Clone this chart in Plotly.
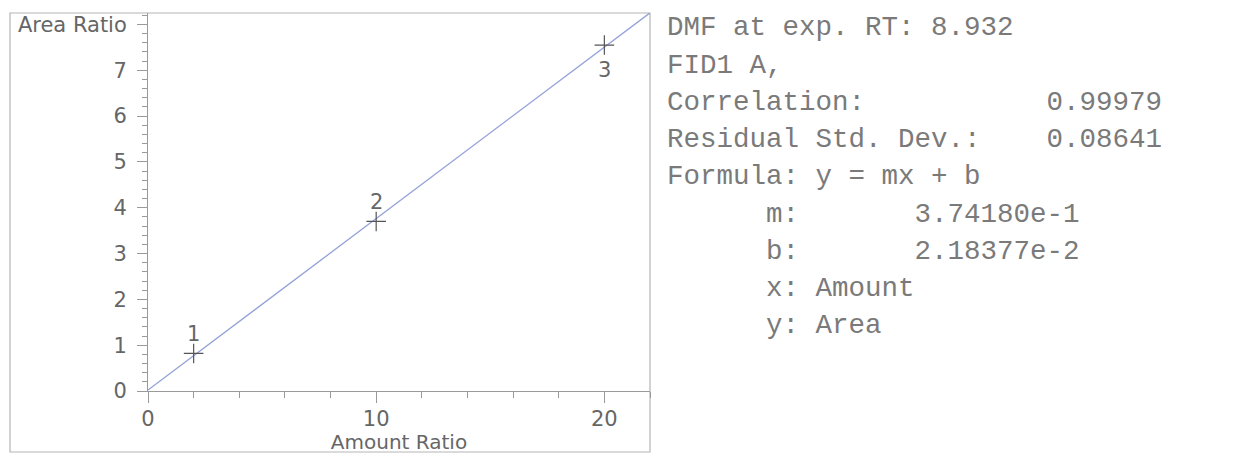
import plotly.graph_objects as go

# ---- data ----
amount_ratio = [2, 10, 20]
area_ratio = [0.82, 3.70, 7.55]
point_labels = ["1", "2", "3"]
label_side = [1, 1, -1]  # 1 = above the point, -1 = below

slope_m = 0.374180
intercept_b = 0.0218377
fit_x = [0, 22]
fit_y = [slope_m * v + intercept_b for v in fit_x]

x_tickvals = [0, 10, 20]
x_ticktext = ["0", "10", "20"]
y_tickvals = [0, 1, 2, 3, 4, 5, 6, 7, 8]
y_ticktext = ["0", "1", "2", "3", "4", "5", "6", "7", "Area Ratio"]

info_lines = [
    "DMF at exp. RT: 8.932",
    "FID1 A,",
    "Correlation:           0.99979",
    "Residual Std. Dev.:    0.08641",
    "Formula: y = mx + b",
    "      m:       3.74180e-1",
    "      b:       2.18377e-2",
    "      x: Amount",
    "      y: Area",
]

# ---- layout geometry (pixels, in screenshot coordinates) ----
OFF = 8  # page body margin
W, H = 1238 - OFF, 454 - OFF
PL, PR, PT, PB = 148, 650, 13, 391
pw, ph = PR - PL, PB - PT

def px_x(p):
    return (p - PL) / pw

def px_y(p):
    return (PB - p) / ph

TEXT = "#666666"
AX = "#9a9a9a"

fig = go.Figure()
fig.add_trace(go.Scatter(
    x=fit_x, y=fit_y, mode="lines",
    line=dict(color="#93a1d8", width=1.3),
    hoverinfo="skip", showlegend=False, cliponaxis=False,
))
fig.add_trace(go.Scatter(
    x=amount_ratio, y=area_ratio, mode="markers",
    marker=dict(symbol="cross-thin", size=14, line=dict(color="#555555", width=1.2)),
    showlegend=False, cliponaxis=False,
))

annotations = []
for xv, yv, lab, side in zip(amount_ratio, area_ratio, point_labels, label_side):
    annotations.append(dict(
        x=xv, y=yv, xref="x", yref="y", text=lab, showarrow=False,
        xanchor="center", yanchor="middle",
        yshift=19 if side > 0 else -25,
        font=dict(family="DejaVu Sans", size=21, color=TEXT),
    ))

x0 = 667
row0 = 28
rowstep = 37.2
for i, line in enumerate(info_lines):
    annotations.append(dict(
        xref="paper", yref="paper",
        x=px_x(x0 - 2), y=px_y(row0 + i * rowstep),
        xanchor="left", yanchor="middle",
        text=line.replace(" ", "\u00a0"),
        showarrow=False,
        font=dict(family="Liberation Mono", size=27.5, color="#7a7a7a"),
    ))

fig.update_layout(
    width=W, height=H,
    margin=dict(l=PL - OFF, r=(1238 - PR), t=PT - OFF, b=(454 - PB), autoexpand=False),
    paper_bgcolor="white", plot_bgcolor="white",
    font=dict(family="DejaVu Sans", size=21, color=TEXT),
    annotations=annotations,
    shapes=[dict(
        type="rect", xref="paper", yref="paper",
        x0=px_x(10), x1=1.0, y0=px_y(452), y1=1.0,
        line=dict(color="#b5b5b5", width=1.2), layer="below",
    )],
    xaxis=dict(
        range=[0, 22], tickvals=x_tickvals, ticktext=x_ticktext,
        ticks="outside", ticklen=11, tickcolor=AX, tickwidth=1,
        minor=dict(dtick=2, ticks="outside", ticklen=6, tickcolor=AX, tickwidth=1),
        showline=True, linecolor=AX, linewidth=1,
        showgrid=False, zeroline=False,
        title=dict(text="Amount Ratio", standoff=12, font=dict(size=20, color=TEXT)),
        tickfont=dict(size=21, color=TEXT),
        ticklabelstandoff=-2,
    ),
    yaxis=dict(
        range=[0, 8.25], tickvals=y_tickvals, ticktext=y_ticktext,
        ticks="outside", ticklen=10, tickcolor=AX, tickwidth=1,
        minor=dict(dtick=0.2, ticks="outside", ticklen=5, tickcolor=AX, tickwidth=1),
        showline=True, linecolor=AX, linewidth=1,
        showgrid=False, zeroline=False,
        tickfont=dict(size=21, color=TEXT),
        ticklabelstandoff=6,
    ),
)

fig.write_html("out.html")
